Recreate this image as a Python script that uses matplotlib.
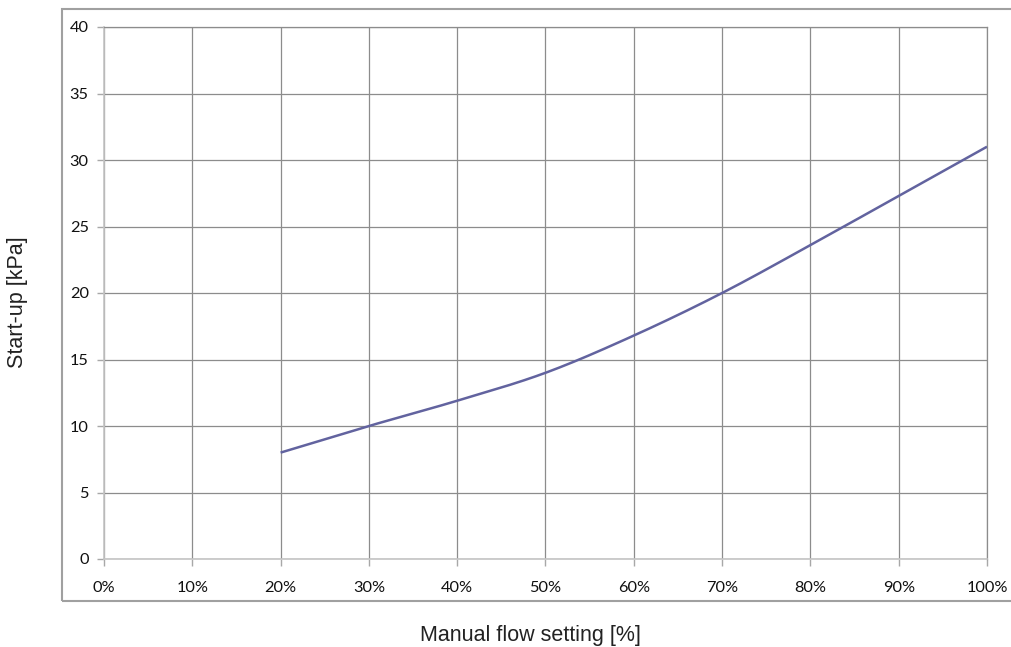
import numpy as np
import matplotlib.pyplot as plt
from matplotlib.patches import Rectangle

# manual flow setting [%] and start-up pressure [kPa]
flow = [20, 30, 40, 50, 60, 70, 80, 90, 100]
startup = [8.0, 10.0, 11.9, 14.0, 16.8, 20.0, 23.6, 27.3, 31.0]

xticks = [0, 10, 20, 30, 40, 50, 60, 70, 80, 90, 100]
yticks = [0, 5, 10, 15, 20, 25, 30, 35, 40]

fig = plt.figure(figsize=(10.12, 6.47), dpi=100)
ax = fig.add_axes([104/1012, 1-559/647, (987-104)/1012, (559-27)/647])

# outer frame around the chart
fig.patches.append(Rectangle((62/1012, 1-601/647), 1.0, (601-9)/647,
                             transform=fig.transFigure, fill=False,
                             edgecolor='#a0a0a0', linewidth=1.5))

# smooth the curve a bit like the spreadsheet does
xs = np.array(flow, dtype=float)
ys = np.array(startup)
xf = np.linspace(xs[0], xs[-1], 300)
# catmull-rom style through the read points
def cr(x, y, xn):
    out = []
    n = len(x)
    for t in xn:
        i = min(np.searchsorted(x, t, side='right') - 1, n - 2)
        p0 = y[i-1] if i > 0 else 2*y[i] - y[i+1]
        p1, p2 = y[i], y[i+1]
        p3 = y[i+2] if i+2 < n else 2*y[i+1] - y[i]
        u = (t - x[i]) / (x[i+1] - x[i])
        out.append(0.5*((2*p1) + (-p0+p2)*u + (2*p0-5*p1+4*p2-p3)*u**2 + (-p0+3*p1-3*p2+p3)*u**3))
    return np.array(out)
ax.plot(xf, cr(xs, ys, xf), color='#62639f', linewidth=1.8, solid_capstyle='butt', zorder=3)

ax.set_xlim(0, 100)
ax.set_ylim(0, 40)
ax.set_xticks(xticks)
ax.set_xticklabels([f'{t}%' for t in xticks])
ax.set_yticks(yticks)
ax.grid(True, color='#8c8c8c', linewidth=0.9)
ax.set_axisbelow(True)
for s in ['top', 'right']:
    ax.spines[s].set_color('#8c8c8c')
    ax.spines[s].set_linewidth(0.9)
for s in ['left', 'bottom']:
    ax.spines[s].set_color('#c4c4c4')
    ax.spines[s].set_linewidth(1.2)
ax.tick_params(length=5, width=1.0, color='#a8a8a8', labelsize=11.8)
ax.tick_params(axis='x', pad=11)
ax.tick_params(axis='y', pad=6)
for lab in ax.get_xticklabels() + ax.get_yticklabels():
    lab.set_fontfamily('Lato')
    lab.set_color('#111111')

fig.text(530/1012, 1-635/647, 'Manual flow setting [%]', ha='center', va='center',
         fontsize=15.5, family='Liberation Sans', color='#222222')
fig.text(18/1012, 1-302/647, 'Start-up [kPa]', ha='center', va='center', rotation=90,
         fontsize=15.5, family='Liberation Sans', color='#222222')

fig.savefig('out.png', dpi=100)
